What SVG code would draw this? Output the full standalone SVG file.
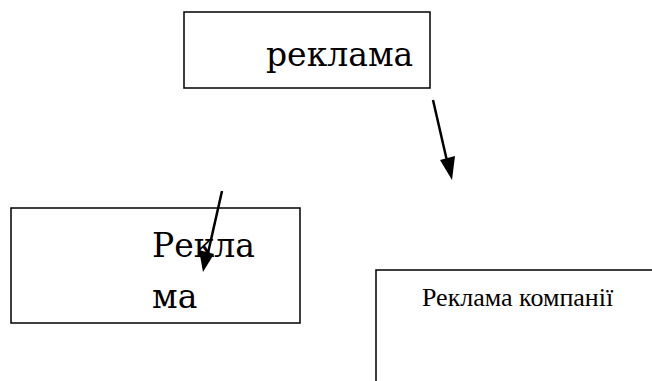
<svg xmlns="http://www.w3.org/2000/svg" width="652" height="381" viewBox="0 0 652 381">
  <style>
    .box { fill: #ffffff; stroke: #000000; stroke-width: 1.5; }
    .big { font-family: "DejaVu Serif", serif; font-size: 33px; fill: #000000; }
    .small { font-family: "Liberation Serif", "Times New Roman", serif; font-size: 26px; fill: #000000; }
    .conn { stroke: #000000; stroke-width: 2.5; fill: none; }
    .head { fill: #000000; stroke: none; }
  </style>
  <rect width="652" height="381" fill="#ffffff"/>

  <g id="node-reklama">
    <rect class="box" x="184" y="12" width="246" height="76"/>
    <text class="big" x="266" y="66">реклама</text>
  </g>

  <g id="node-rekla-ma">
    <rect class="box" x="11" y="208" width="289" height="115"/>
    <text class="big" x="152" y="257">Рекла</text>
    <text class="big" x="152" y="308">ма</text>
  </g>

  <g id="node-kompanii">
    <rect class="box" x="376" y="270" width="290" height="130"/>
    <text class="small" x="422" y="306">Реклама компанії</text>
  </g>

  <g id="connectors">
    <line class="conn" x1="433" y1="100" x2="447" y2="161"/>
    <polygon class="head" points="452,180 440,160 455,156"/>
    <line class="conn" x1="222" y1="191" x2="208" y2="253"/>
    <polygon class="head" points="203,272 199,250 214,254"/>
  </g>
</svg>
